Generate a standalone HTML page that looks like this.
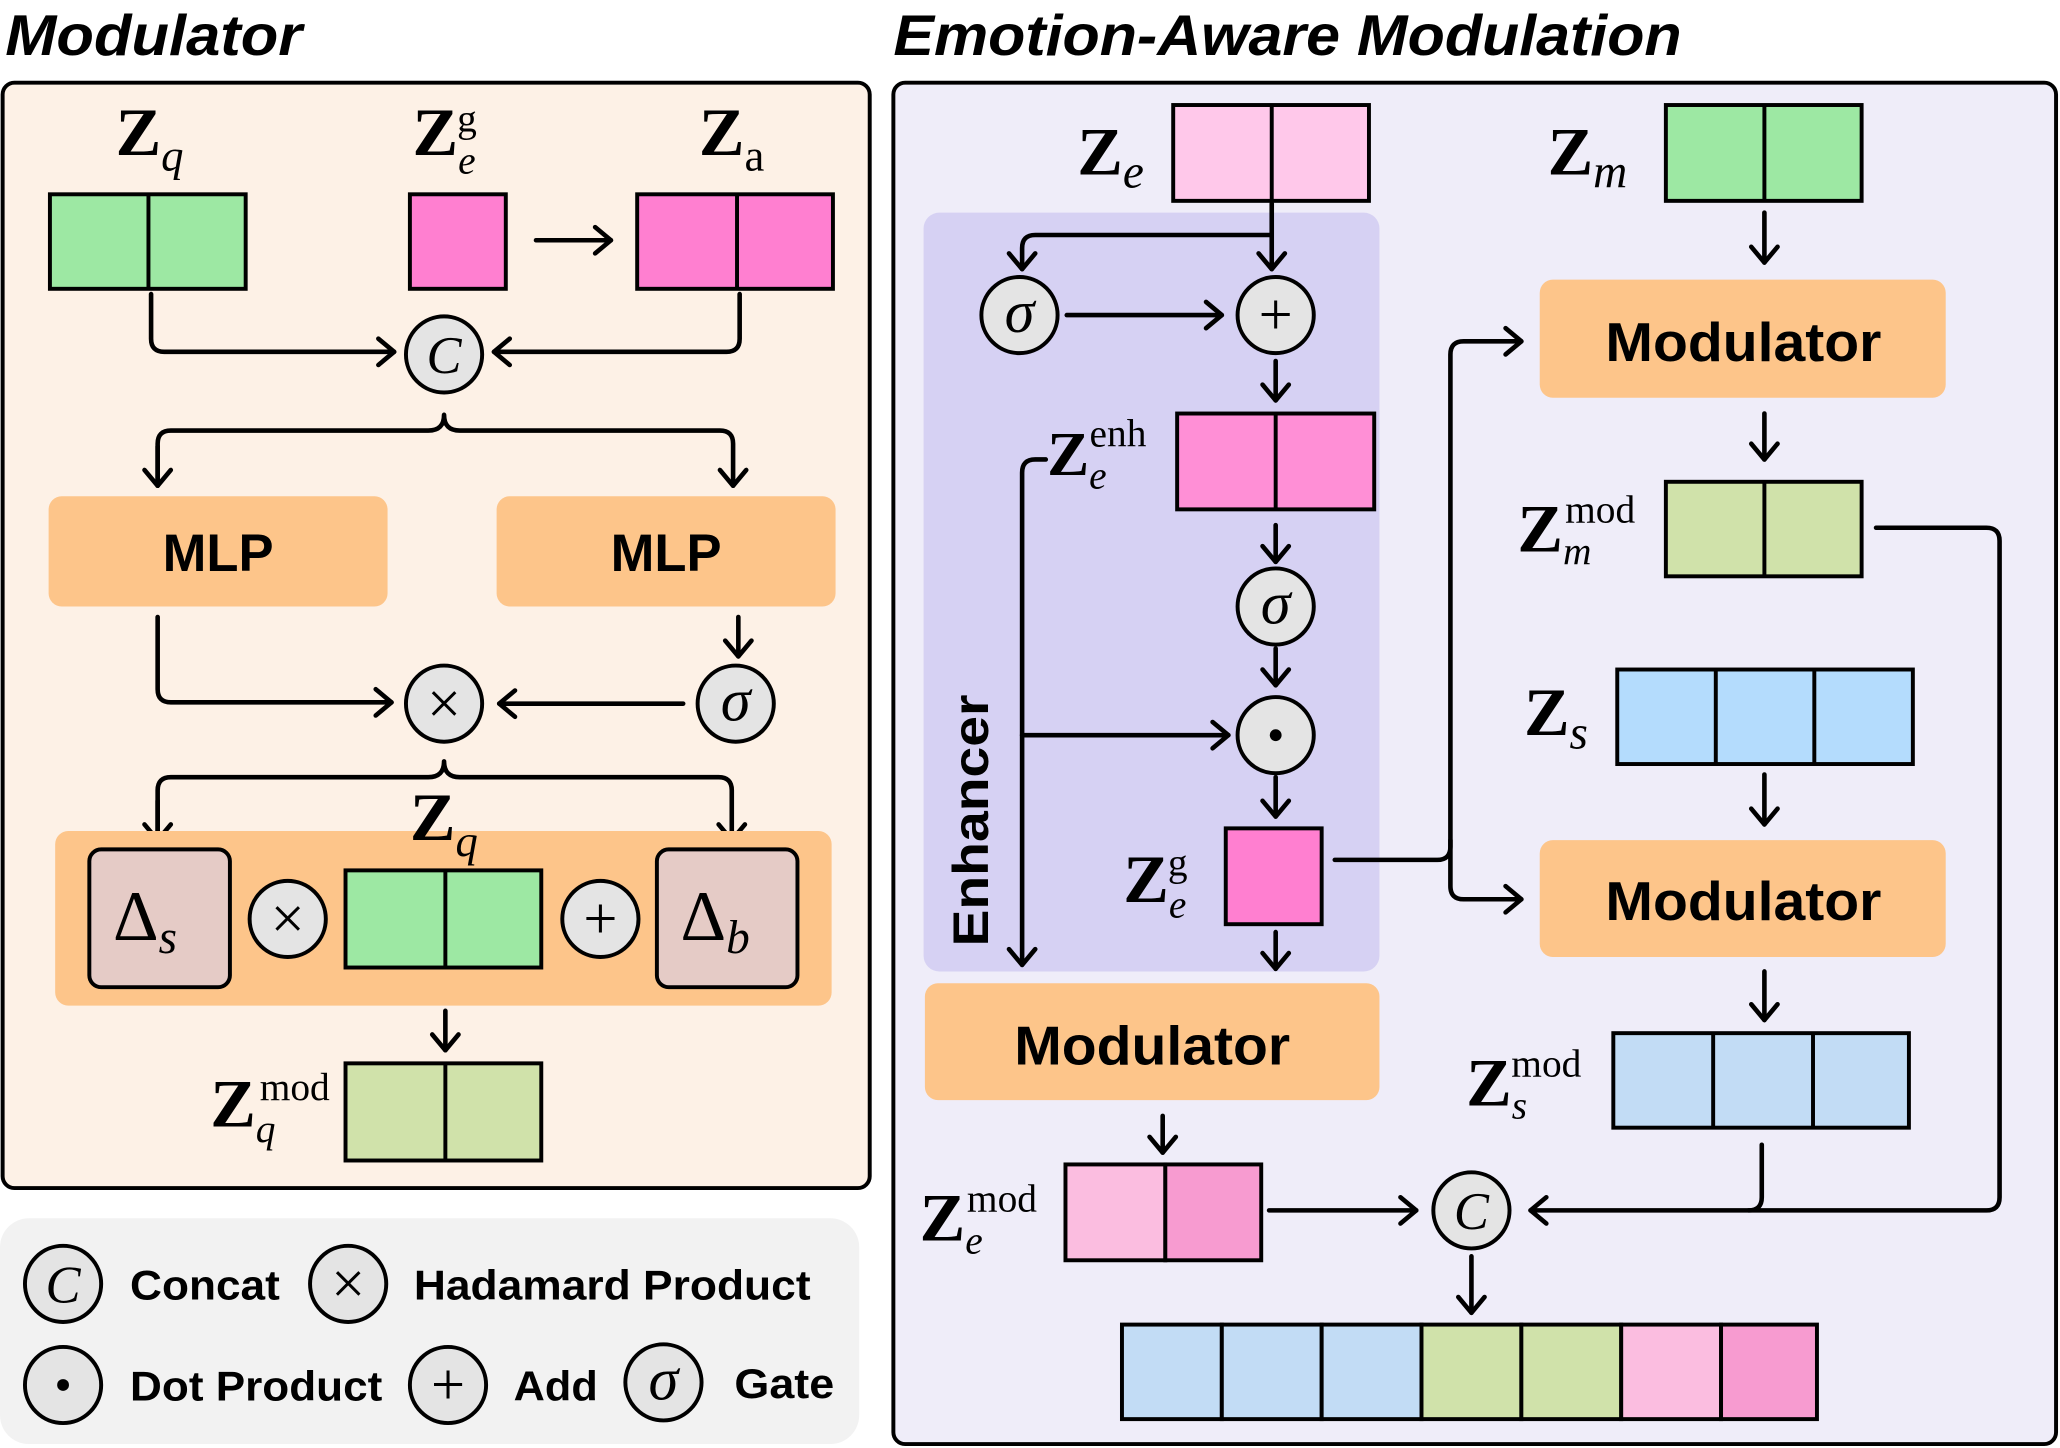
<!DOCTYPE html>
<html><head><meta charset="utf-8"><style>
html,body{margin:0;padding:0;background:#fff;}
svg{display:block;}
.t{font-family:"Liberation Sans",sans-serif;font-weight:bold;fill:#000;}
.m{font-family:"Liberation Serif",serif;fill:#000;}
.ln{fill:none;stroke:#000;stroke-width:3.5;stroke-linejoin:round;stroke-linecap:round;}
.c{fill:#e4e4e4;stroke:#000;stroke-width:3;}
.b{stroke:#000;stroke-width:3;}
</style></head><body>
<svg width="2060" height="1448" viewBox="0 0 1568 1103" preserveAspectRatio="none" xmlns="http://www.w3.org/2000/svg">
<defs>
<marker id="a" markerUnits="userSpaceOnUse" markerWidth="20" markerHeight="24" refX="15" refY="12" orient="auto">
<path d="M3,2 L15,12 L3,22" fill="none" stroke="#000" stroke-width="3.5" stroke-linecap="round" stroke-linejoin="round"/>
</marker>
</defs>
<rect width="1568" height="1103" fill="#fff"/>
<text x="4" y="42" class="t" font-size="44" font-style="italic" textLength="226" lengthAdjust="spacingAndGlyphs">Modulator</text>
<text x="680" y="42" class="t" font-size="44" font-style="italic" textLength="600" lengthAdjust="spacingAndGlyphs">Emotion-Aware Modulation</text>

<!-- Left panel -->
<rect x="2" y="63" width="660" height="842" rx="9" fill="#fdf1e6" stroke="#000" stroke-width="3"/>
<text x="88" y="118" class="m" font-size="52" font-weight="bold">Z<tspan font-size="34" font-style="italic" font-weight="normal" dy="12">q</tspan></text>
<rect x="38" y="148" width="149" height="72" fill="#9de8a3" class="b"/><line x1="113" y1="148" x2="113" y2="220" class="b"/>
<text x="314" y="118" class="m" font-size="52" font-weight="bold">Z<tspan font-size="30" font-style="italic" font-weight="normal" dy="14">e</tspan><tspan font-size="30" font-weight="normal" dx="-14" dy="-32">g</tspan></text>
<rect x="312" y="148" width="73" height="72" fill="#ff7fd0" class="b"/>
<path d="M408,183 L465,183" class="ln" marker-end="url(#a)"/>
<text x="532" y="118" class="m" font-size="52" font-weight="bold">Z<tspan font-size="34" font-weight="normal" dy="12">a</tspan></text>
<rect x="485" y="148" width="149" height="72" fill="#ff7fd0" class="b"/><line x1="561" y1="148" x2="561" y2="220" class="b"/>
<path d="M115,224 L115,258 Q115,268 125,268 L300,268" class="ln" marker-end="url(#a)"/>
<path d="M563,224 L563,258 Q563,268 553,268 L376,268" class="ln" marker-end="url(#a)"/>
<circle cx="338" cy="270" r="29" class="c"/><text x="338" y="284" class="m" font-size="40" font-style="italic" text-anchor="middle">C</text>
<path d="M120,370 L120,338 Q120,328 130,328 L326,328 Q338,328 338,316 Q338,328 350,328 L548,328 Q558,328 558,338 L558,370" class="ln" marker-end="url(#a)"/>
<path d="M120,340 L120,370" class="ln" marker-end="url(#a)"/>
<rect x="37" y="378" width="258" height="84" rx="10" fill="#fdc58a"/>
<rect x="378" y="378" width="258" height="84" rx="10" fill="#fdc58a"/>
<text x="166" y="435" class="t" font-size="40" text-anchor="middle">MLP</text>
<text x="507" y="435" class="t" font-size="40" text-anchor="middle">MLP</text>
<path d="M120,470 L120,525 Q120,535 130,535 L298,535" class="ln" marker-end="url(#a)"/>
<path d="M562,470 L562,500" class="ln" marker-end="url(#a)"/>
<circle cx="560" cy="536" r="29" class="c"/><text x="560" y="549" class="m" font-size="46" font-style="italic" text-anchor="middle">σ</text>
<path d="M520,536 L380,536" class="ln" marker-end="url(#a)"/>
<circle cx="338" cy="536" r="29" class="c"/><text x="338" y="551" class="m" font-size="46" text-anchor="middle">×</text>
<path d="M120,640 L120,602 Q120,592 130,592 L326,592 Q338,592 338,580 Q338,592 350,592 L547,592 Q557,592 557,602 L557,640" class="ln" marker-end="url(#a)"/>
<path d="M120,610 L120,640" class="ln" marker-end="url(#a)"/>
<rect x="42" y="633" width="591" height="133" rx="10" fill="#fdc58a"/>
<rect x="68" y="647" width="107" height="105" rx="9" fill="#e5cbc6" class="b"/>
<text x="86" y="716" class="m" font-size="54">Δ<tspan font-size="36" font-style="italic" dy="10">s</tspan></text>
<circle cx="219" cy="700" r="29" class="c"/><text x="219" y="715" class="m" font-size="46" text-anchor="middle">×</text>
<text x="312" y="640" class="m" font-size="52" font-weight="bold">Z<tspan font-size="34" font-style="italic" font-weight="normal" dy="12">q</tspan></text>
<rect x="263" y="663" width="149" height="74" fill="#9de8a3" class="b"/><line x1="339" y1="663" x2="339" y2="737" class="b"/>
<circle cx="457" cy="700" r="29" class="c"/><text x="457" y="715" class="m" font-size="46" text-anchor="middle">+</text>
<rect x="500" y="647" width="107" height="105" rx="9" fill="#e5cbc6" class="b"/>
<text x="518" y="716" class="m" font-size="54">Δ<tspan font-size="36" font-style="italic" dy="10">b</tspan></text>
<path d="M339,770 L339,800" class="ln" marker-end="url(#a)"/>
<text x="160" y="858" class="m" font-size="52" font-weight="bold">Z<tspan font-size="30" font-style="italic" font-weight="normal" dy="12">q</tspan><tspan font-size="30" font-weight="normal" dx="-12" dy="-32">mod</tspan></text>
<rect x="263" y="810" width="149" height="74" fill="#d0e2aa" class="b"/><line x1="339" y1="810" x2="339" y2="884" class="b"/>

<!-- Legend -->
<rect x="0" y="928" width="654" height="172" rx="22" fill="#f2f2f2"/>
<circle cx="48" cy="978" r="29" class="c"/><text x="48" y="992" class="m" font-size="40" font-style="italic" text-anchor="middle">C</text>
<text x="99" y="990" class="t" font-size="32" textLength="114" lengthAdjust="spacingAndGlyphs">Concat</text>
<circle cx="265" cy="978" r="29" class="c"/><text x="265" y="993" class="m" font-size="46" text-anchor="middle">×</text>
<text x="315" y="990" class="t" font-size="32" textLength="302" lengthAdjust="spacingAndGlyphs">Hadamard Product</text>
<circle cx="48" cy="1055" r="29" class="c"/><circle cx="48" cy="1055" r="4.5" fill="#000"/>
<text x="99" y="1067" class="t" font-size="32" textLength="192" lengthAdjust="spacingAndGlyphs">Dot Product</text>
<circle cx="341" cy="1055" r="29" class="c"/><text x="341" y="1070" class="m" font-size="46" text-anchor="middle">+</text>
<text x="391" y="1067" class="t" font-size="32" textLength="64" lengthAdjust="spacingAndGlyphs">Add</text>
<circle cx="505" cy="1053" r="29" class="c"/><text x="505" y="1066" class="m" font-size="46" font-style="italic" text-anchor="middle">σ</text>
<text x="559" y="1065" class="t" font-size="32" textLength="76" lengthAdjust="spacingAndGlyphs">Gate</text>

<!-- Right panel -->
<rect x="680" y="63" width="885" height="1037" rx="9" fill="#efedf9" stroke="#000" stroke-width="3"/>
<rect x="703" y="162" width="347" height="578" rx="12" fill="#d6d1f3"/>
<text x="820" y="133" class="m" font-size="52" font-weight="bold">Z<tspan font-size="36" font-style="italic" font-weight="normal" dy="10">e</tspan></text>
<rect x="893" y="80" width="149" height="73" fill="#ffc8ea" class="b"/><line x1="968" y1="80" x2="968" y2="153" class="b"/>
<text x="1178" y="133" class="m" font-size="52" font-weight="bold">Z<tspan font-size="36" font-style="italic" font-weight="normal" dy="10">m</tspan></text>
<rect x="1268" y="80" width="149" height="73" fill="#9de8a3" class="b"/><line x1="1343" y1="80" x2="1343" y2="153" class="b"/>
<path d="M968,155 L968,205" class="ln" marker-end="url(#a)"/>
<path d="M968,179 L788,179 Q778,179 778,189 L778,205" class="ln" marker-end="url(#a)"/>
<circle cx="776" cy="240" r="29" class="c"/><text x="776" y="253" class="m" font-size="46" font-style="italic" text-anchor="middle">σ</text>
<path d="M812,240 L930,240" class="ln" marker-end="url(#a)"/>
<circle cx="971" cy="240" r="29" class="c"/><text x="971" y="255" class="m" font-size="46" text-anchor="middle">+</text>
<path d="M971,275 L971,305" class="ln" marker-end="url(#a)"/>
<text x="797" y="362" class="m" font-size="48" font-weight="bold">Z<tspan font-size="30" font-style="italic" font-weight="normal" dy="10">e</tspan><tspan font-size="30" font-weight="normal" dx="-13" dy="-32">enh</tspan></text>
<rect x="896" y="315" width="150" height="73" fill="#ff8fd6" class="b"/><line x1="971" y1="315" x2="971" y2="388" class="b"/>
<path d="M971,400 L971,428" class="ln" marker-end="url(#a)"/>
<circle cx="971" cy="462" r="29" class="c"/><text x="971" y="475" class="m" font-size="46" font-style="italic" text-anchor="middle">σ</text>
<path d="M971,494 L971,522" class="ln" marker-end="url(#a)"/>
<circle cx="971" cy="560" r="29" class="c"/><circle cx="971" cy="560" r="4.5" fill="#000"/>
<path d="M971,592 L971,622" class="ln" marker-end="url(#a)"/>
<text x="855" y="687" class="m" font-size="52" font-weight="bold">Z<tspan font-size="30" font-style="italic" font-weight="normal" dy="12">e</tspan><tspan font-size="30" font-weight="normal" dx="-14" dy="-32">g</tspan></text>
<rect x="933" y="631" width="73" height="73" fill="#ff7fd0" class="b"/>
<path d="M971,710 L971,738" class="ln" marker-end="url(#a)"/>
<path d="M796,350 L788,350 Q778,350 778,360 L778,735" class="ln" marker-end="url(#a)"/>
<path d="M778,560 L935,560" class="ln" marker-end="url(#a)"/>
<text transform="translate(752,625) rotate(-90)" class="t" font-size="38" text-anchor="middle" textLength="192" lengthAdjust="spacingAndGlyphs">Enhancer</text>
<rect x="704" y="749" width="346" height="89" rx="10" fill="#fdc58a"/>
<text x="877" y="811" class="t" font-size="42" text-anchor="middle" textLength="210" lengthAdjust="spacingAndGlyphs">Modulator</text>
<path d="M885,850 L885,878" class="ln" marker-end="url(#a)"/>
<text x="700" y="945" class="m" font-size="52" font-weight="bold">Z<tspan font-size="30" font-style="italic" font-weight="normal" dy="10">e</tspan><tspan font-size="30" font-weight="normal" dx="-12" dy="-32">mod</tspan></text>
<rect x="811" y="887" width="76" height="73" fill="#fbbde0" class="b"/>
<rect x="887" y="887" width="73" height="73" fill="#f79bd0" class="b"/>
<path d="M966,922 L1078,922" class="ln" marker-end="url(#a)"/>
<circle cx="1120" cy="922" r="29" class="c"/><text x="1120" y="936" class="m" font-size="40" font-style="italic" text-anchor="middle">C</text>
<path d="M1120,957 L1120,1000" class="ln" marker-end="url(#a)"/>
<rect x="854" y="1009" width="76" height="72" fill="#c2dcf5" class="b"/>
<rect x="930" y="1009" width="76" height="72" fill="#c2dcf5" class="b"/>
<rect x="1006" y="1009" width="76" height="72" fill="#c2dcf5" class="b"/>
<rect x="1082" y="1009" width="76" height="72" fill="#d0e2aa" class="b"/>
<rect x="1158" y="1009" width="76" height="72" fill="#d0e2aa" class="b"/>
<rect x="1234" y="1009" width="76" height="72" fill="#fbbde0" class="b"/>
<rect x="1310" y="1009" width="73" height="72" fill="#f79bd0" class="b"/>

<path d="M1343,162 L1343,200" class="ln" marker-end="url(#a)"/>
<rect x="1172" y="213" width="309" height="90" rx="10" fill="#fdc58a"/>
<text x="1327" y="275" class="t" font-size="42" text-anchor="middle" textLength="210" lengthAdjust="spacingAndGlyphs">Modulator</text>
<path d="M1016,655 L1094,655 Q1104,655 1104,645 L1104,270 Q1104,260 1114,260 L1158,260" class="ln" marker-end="url(#a)"/>
<path d="M1104,640 L1104,675 Q1104,685 1114,685 L1158,685" class="ln" marker-end="url(#a)"/>
<path d="M1343,315 L1343,350" class="ln" marker-end="url(#a)"/>
<text x="1155" y="420" class="m" font-size="52" font-weight="bold">Z<tspan font-size="30" font-style="italic" font-weight="normal" dy="10">m</tspan><tspan font-size="30" font-weight="normal" dx="-20" dy="-32">mod</tspan></text>
<rect x="1268" y="367" width="149" height="72" fill="#d0e2aa" class="b"/><line x1="1343" y1="367" x2="1343" y2="439" class="b"/>
<path d="M1428,402 L1512,402 Q1522,402 1522,412 L1522,912 Q1522,922 1512,922 L1165,922" class="ln" marker-end="url(#a)"/>
<text x="1160" y="560" class="m" font-size="52" font-weight="bold">Z<tspan font-size="36" font-style="italic" font-weight="normal" dy="10">s</tspan></text>
<rect x="1231" y="510" width="225" height="72" fill="#b4dcfd" class="b"/><line x1="1306" y1="510" x2="1306" y2="582" class="b"/><line x1="1381" y1="510" x2="1381" y2="582" class="b"/>
<path d="M1343,590 L1343,628" class="ln" marker-end="url(#a)"/>
<rect x="1172" y="640" width="309" height="89" rx="10" fill="#fdc58a"/>
<text x="1327" y="701" class="t" font-size="42" text-anchor="middle" textLength="210" lengthAdjust="spacingAndGlyphs">Modulator</text>
<path d="M1343,740 L1343,777" class="ln" marker-end="url(#a)"/>
<text x="1116" y="842" class="m" font-size="52" font-weight="bold">Z<tspan font-size="30" font-style="italic" font-weight="normal" dy="10">s</tspan><tspan font-size="30" font-weight="normal" dx="-12" dy="-32">mod</tspan></text>
<rect x="1228" y="787" width="225" height="72" fill="#c2dcf5" class="b"/><line x1="1304" y1="787" x2="1304" y2="859" class="b"/><line x1="1380" y1="787" x2="1380" y2="859" class="b"/>
<path d="M1341,872 L1341,912 Q1341,922 1331,922" class="ln"/>
</svg>
</body></html>
